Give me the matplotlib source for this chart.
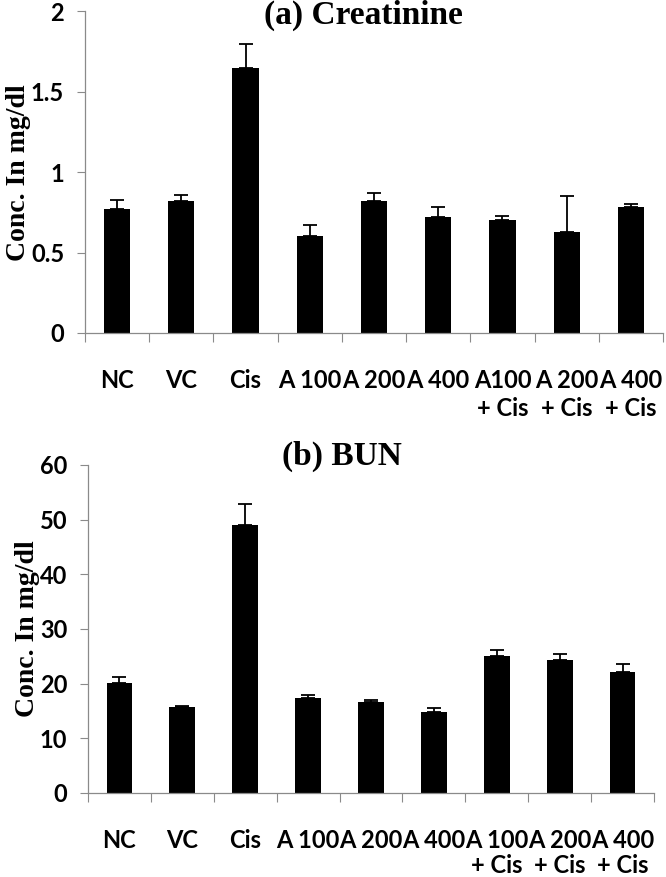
import numpy as np
import matplotlib
matplotlib.use("Agg")
import matplotlib.pyplot as plt
from matplotlib.ticker import FixedLocator

# Dados
labels_a = ["NC", "VC", "Cis", "A 100", "A 200", "A 400",
            "A100\n+ Cis", "A 200\n+ Cis", "A 400\n+ Cis"]
labels_b = ["NC", "VC", "Cis", "A 100", "A 200", "A 400",
            "A 100\n+ Cis", "A 200\n+ Cis", "A 400\n+ Cis"]

creatinine = [0.77, 0.82, 1.65, 0.60, 0.82, 0.72, 0.705, 0.63, 0.785]
creatinine_err = [0.058, 0.041, 0.147, 0.072, 0.052, 0.066, 0.02, 0.222, 0.015]

bun = [20.2, 15.8, 49.0, 17.4, 16.7, 14.9, 25.1, 24.4, 22.1]
bun_err = [1.05, 0.2, 3.85, 0.6, 0.3, 0.6, 1.05, 1.05, 1.45]

creat_ticks = [0, 0.5, 1, 1.5, 2]
creat_ticklabels = ["0", "0.5", "1", "1.5", "2"]
bun_ticks = [0, 10, 20, 30, 40, 50, 60]

SANS = ["Lato", "DejaVu Sans"]
SERIF = ["Liberation Serif", "DejaVu Serif"]
GREY = "#8a8a8a"


def draw_panel(ax, values, errors, labels, ylim, yticks, yticklabels, spacing):
    x = np.arange(len(values))
    ax.bar(x, values, width=0.41, color="black", zorder=2)
    ax.errorbar(x, values, yerr=[np.zeros(len(errors)), errors], fmt="none",
                ecolor="black", elinewidth=1.3, capsize=5, capthick=1.3, zorder=3)
    ax.set_xlim(-0.5, len(values) - 0.5)
    ax.set_ylim(*ylim)

    for side in ["top", "right"]:
        ax.spines[side].set_visible(False)
    for side in ["left", "bottom"]:
        ax.spines[side].set_color(GREY)
        ax.spines[side].set_linewidth(0.9)

    ax.set_yticks(yticks)
    ax.set_yticklabels(yticklabels, fontfamily=SANS, fontweight="bold", fontsize=17)
    ax.tick_params(axis="y", direction="out", length=6, width=0.8, color=GREY, pad=9)

    ax.set_xticks(x)
    ax.set_xticklabels(labels, fontfamily=SANS, fontweight="bold", fontsize=17,
                       linespacing=spacing)
    ax.tick_params(axis="x", which="major", length=0, pad=26)
    ax.xaxis.set_minor_locator(FixedLocator(np.arange(-0.5, len(values), 1.0)))
    ax.tick_params(axis="x", which="minor", direction="out", length=6.5,
                   width=0.8, color=GREY)

    ax.set_ylabel("Conc. In mg/dl", fontfamily=SERIF, fontweight="bold",
                  fontsize=20, labelpad=0)


fig = plt.figure(figsize=(6.66, 8.77), dpi=100)
ax1 = fig.add_axes([0.1276, 0.6203, 0.8679, 0.3668])
ax2 = fig.add_axes([0.1321, 0.0958, 0.8498, 0.3740])

draw_panel(ax1, creatinine, creatinine_err, labels_a, (0, 2), creat_ticks,
           creat_ticklabels, 1.25)
draw_panel(ax2, bun, bun_err, labels_b, (0, 60), bun_ticks,
           [str(t) for t in bun_ticks], 1.1)

fig.text(0.545, 0.983, "(a) Creatinine", ha="center", va="center",
         fontfamily=SERIF, fontweight="bold", fontsize=24)
fig.text(0.5135, 0.480, "(b) BUN", ha="center", va="center",
         fontfamily=SERIF, fontweight="bold", fontsize=24)

fig.savefig("out.png", dpi=100)
